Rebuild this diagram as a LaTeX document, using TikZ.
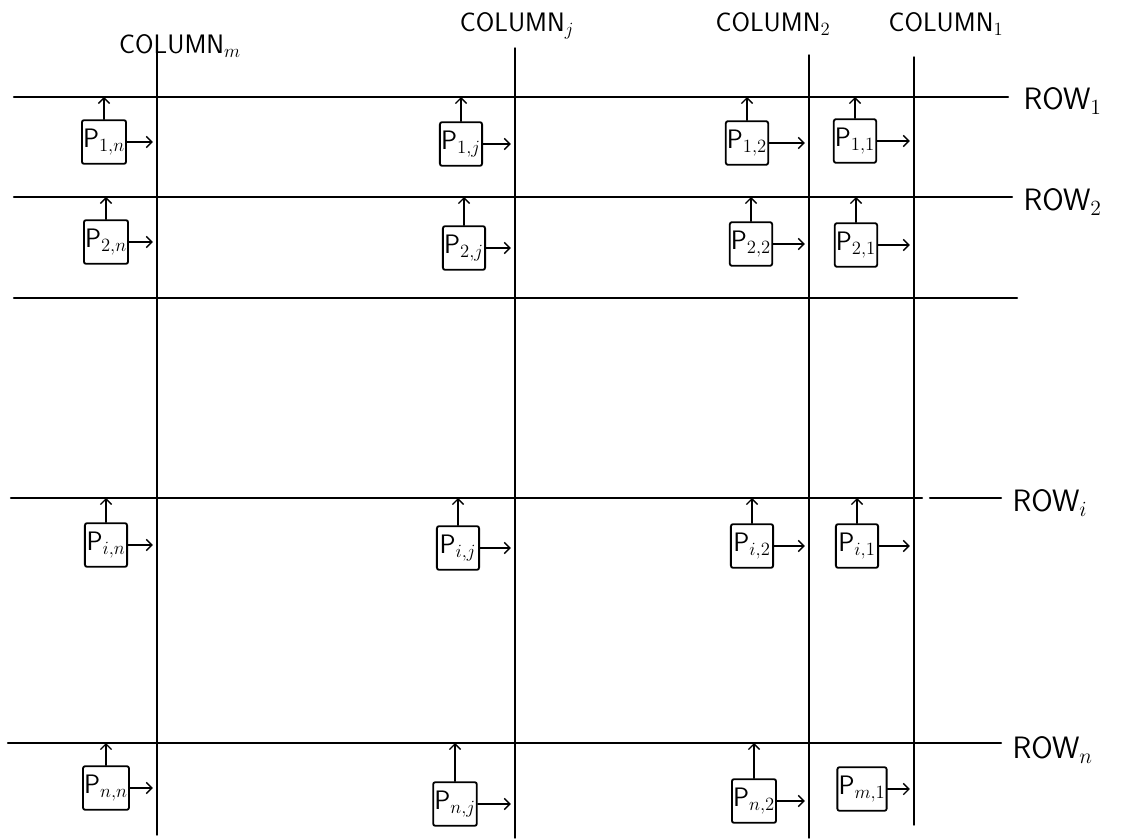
\documentclass[tikz,border=0pt]{standalone}
\usepackage{fix-cm}
\usepackage{fontspec}
\usetikzlibrary{arrows.meta}

\begin{document}
\begin{tikzpicture}[x=0.025cm,y=-0.025cm,line cap=round,line join=round,
  every node/.style={inner sep=1pt},
  pe/.style={draw,line width=1.3pt,rounded corners=1.5pt,minimum width=30pt,
    minimum height=31pt,inner sep=0.8pt,font=\fontsize{19}{21}\selectfont\sffamily},
  rowline/.style={line width=1.5pt},
  colline/.style={line width=1pt},
  link/.style={line width=0.9pt,-{Straight Barb[length=4pt,width=8pt]}},
  rowlbl/.style={anchor=west,font=\fontsize{22}{24}\selectfont\sffamily},
  collbl/.style={font=\fontsize{19}{21}\selectfont\sffamily}]
  \useasboundingbox (0,0) rectangle (1121,840);
  % rows
  \coordinate (r1a) at (14,97);  \coordinate (r1b) at (1008,97);
  \coordinate (r2a) at (14,197); \coordinate (r2b) at (1012,197);
  \coordinate (r3a) at (14,298); \coordinate (r3b) at (1017,298);
  \coordinate (ria) at (11,498); \coordinate (rib) at (1001,498);
  \coordinate (rna) at (8,743);  \coordinate (rnb) at (1001,743);
  \draw[rowline] (r1a) -- (r1b);
  \draw[rowline] (r2a) -- (r2b);
  \draw[rowline] (r3a) -- (r3b);
  \draw[rowline] (ria) -- (922,498);
  \draw[rowline] (930,498) -- (rib);
  \draw[rowline] (rna) -- (rnb);
  % columns
  \coordinate (cnt) at (157,40);  \coordinate (cnb) at (157,835);
  \coordinate (cjt) at (515,48);  \coordinate (cjb) at (515,838);
  \coordinate (c2t) at (809,55);  \coordinate (c2b) at (809,838);
  \coordinate (c1t) at (914,57);  \coordinate (c1b) at (914,825);
  \draw[colline] (cnt) -- (cnb);
  \draw[colline] (cjt) -- (cjb);
  \draw[colline] (c2t) -- (c2b);
  \draw[colline] (c1t) -- (c1b);
  % labels
  \node[collbl] (coln) at (180,46) {COLUMN$_m$};
  \node[collbl] (colj) at (517,26) {COLUMN$_j$};
  \node[collbl] (col2) at (773,24) {COLUMN$_2$};
  \node[collbl] (col1) at (946,24) {COLUMN$_1$};
  \node[rowlbl] (row1) at (1022,101) {ROW$_1$};
  \node[rowlbl] (row2) at (1022,202) {ROW$_2$};
  \node[rowlbl] (rowi) at (1011,503) {ROW$_i$};
  \node[rowlbl] (rown) at (1011,750) {ROW$_n$};
  % row 1
  \node[pe] (p1n) at (104,142) {P$_{1,n}$};
  \node[pe] (p1j) at (461,144) {P$_{1,j}$};
  \node[pe] (p12) at (747,143) {P$_{1,2}$};
  \node[pe] (p11) at (855,141) {P$_{1,1}$};
  % row 2
  \node[pe] (p2n) at (106,242) {P$_{2,n}$};
  \node[pe] (p2j) at (464,248) {P$_{2,j}$};
  \node[pe] (p22) at (751,244) {P$_{2,2}$};
  \node[pe] (p21) at (856,245) {P$_{2,1}$};
  % row i
  \node[pe] (pin) at (106,545) {P$_{i,n}$};
  \node[pe] (pij) at (458,548) {P$_{i,j}$};
  \node[pe] (pi2) at (752,546) {P$_{i,2}$};
  \node[pe] (pi1) at (857,546) {P$_{i,1}$};
  % row n
  \node[pe] (pnn) at (106,788) {P$_{n,n}$};
  \node[pe] (pnj) at (455,804) {P$_{n,j}$};
  \node[pe] (pn2) at (754,801) {P$_{n,2}$};
  \node[pe] (pm1) at (862,789) {P$_{m,1}$};
  % arrows up to the rows
  \draw[link] (p1n.north) -- (p1n.north |- r1a);
  \draw[link] (p1j.north) -- (p1j.north |- r1a);
  \draw[link] (p12.north) -- (p12.north |- r1a);
  \draw[link] (p11.north) -- (p11.north |- r1a);
  \draw[link] (p2n.north) -- (p2n.north |- r2a);
  \draw[link] (p2j.north) -- (p2j.north |- r2a);
  \draw[link] (p22.north) -- (p22.north |- r2a);
  \draw[link] (p21.north) -- (p21.north |- r2a);
  \draw[link] (pin.north) -- (pin.north |- ria);
  \draw[link] (pij.north) -- (pij.north |- ria);
  \draw[link] (pi2.north) -- (pi2.north |- ria);
  \draw[link] (pi1.north) -- (pi1.north |- ria);
  \draw[link] (pnn.north) -- (pnn.north |- rna);
  \draw[link] (pnj.north) -- (pnj.north |- rna);
  \draw[link] (pn2.north) -- (pn2.north |- rna);
  % arrows right to the columns
  \draw[link,shorten >=3pt] (p1n.east) -- (p1n.east -| cnt);
  \draw[link,shorten >=3pt] (p1j.east) -- (p1j.east -| cjt);
  \draw[link,shorten >=3pt] (p12.east) -- (p12.east -| c2t);
  \draw[link,shorten >=3pt] (p11.east) -- (p11.east -| c1t);
  \draw[link,shorten >=3pt] (p2n.east) -- (p2n.east -| cnt);
  \draw[link,shorten >=3pt] (p2j.east) -- (p2j.east -| cjt);
  \draw[link,shorten >=3pt] (p22.east) -- (p22.east -| c2t);
  \draw[link,shorten >=3pt] (p21.east) -- (p21.east -| c1t);
  \draw[link,shorten >=3pt] (pin.east) -- (pin.east -| cnt);
  \draw[link,shorten >=3pt] (pij.east) -- (pij.east -| cjt);
  \draw[link,shorten >=3pt] (pi2.east) -- (pi2.east -| c2t);
  \draw[link,shorten >=3pt] (pi1.east) -- (pi1.east -| c1t);
  \draw[link,shorten >=3pt] (pnn.east) -- (pnn.east -| cnt);
  \draw[link,shorten >=3pt] (pnj.east) -- (pnj.east -| cjt);
  \draw[link,shorten >=3pt] (pn2.east) -- (pn2.east -| c2t);
  \draw[link,shorten >=3pt] (pm1.east) -- (pm1.east -| c1t);
\end{tikzpicture}
\end{document}
